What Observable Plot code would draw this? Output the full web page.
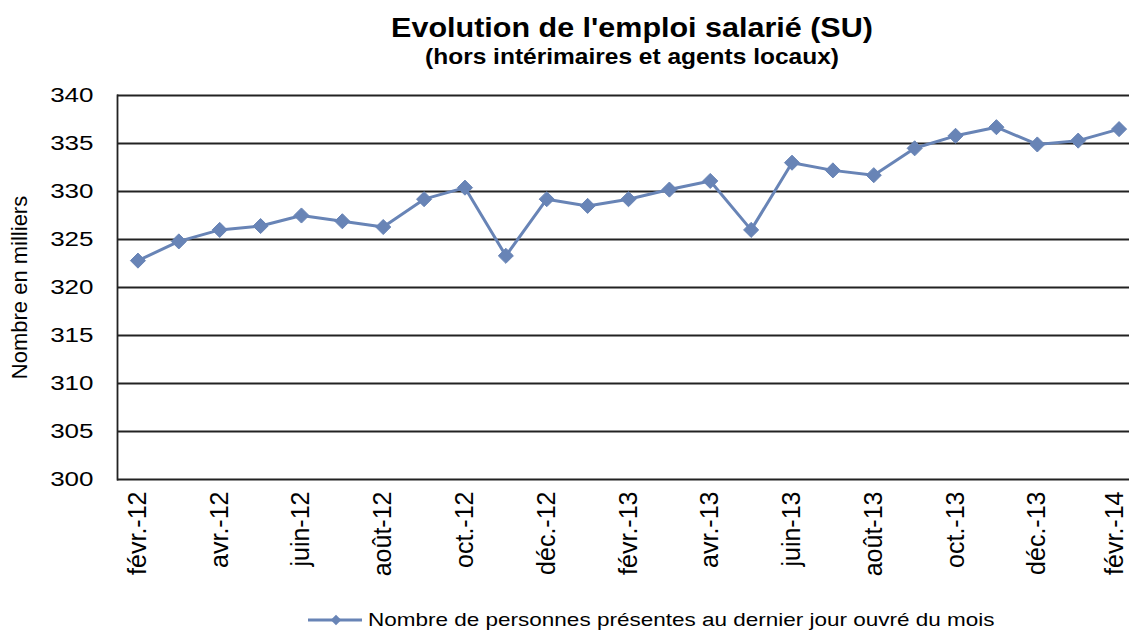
<!DOCTYPE html>
<html><head><meta charset="utf-8">
<script src="https://cdn.jsdelivr.net/npm/d3@7"></script>
<script src="https://cdn.jsdelivr.net/npm/@observablehq/plot@0.6"></script>
<style>
body{margin:0;background:#fff;font-family:"Liberation Sans",Arial,sans-serif;width:1129px;height:632px;overflow:hidden;position:relative;color:#000}
.t{position:absolute;left:132px;width:1000px;text-align:center;font-weight:bold;white-space:nowrap}
.t span{display:inline-block}
#chart{position:absolute;left:0;top:80px}
#legend{position:absolute;left:306px;top:606px;height:28px;display:flex;align-items:center;white-space:nowrap}
#legend span{display:inline-block;font-size:22.5px;transform:scaleY(0.85);margin-left:4px}
</style></head><body>
<div class="t" style="top:9px;line-height:36px;font-size:30.5px"><span style="transform:scaleY(0.9)">Evolution de l'emploi salarié (SU)</span></div>
<div class="t" style="top:42px;line-height:30px;font-size:24.5px"><span style="transform:scaleY(0.88)">(hors intérimaires et agents locaux)</span></div>
<div id="chart"></div>
<div id="legend"></div>
<script>
const months = ["févr.-12","mars-12","avr.-12","mai-12","juin-12","juil.-12","août-12","sept.-12","oct.-12","nov.-12","déc.-12","janv.-13","févr.-13","mars-13","avr.-13","mai-13","juin-13","juil.-13","août-13","sept.-13","oct.-13","nov.-13","déc.-13","janv.-14","févr.-14"];
const values = [322.8,324.8,326.0,326.4,327.5,326.9,326.3,329.2,330.4,323.3,329.2,328.5,329.2,330.2,331.1,326.0,333.0,332.2,331.7,334.5,335.8,336.7,334.9,335.3,336.5];
const xTickLabels = ["févr.-12","avr.-12","juin-12","août-12","oct.-12","déc.-12","févr.-13","avr.-13","juin-13","août-13","oct.-13","déc.-13","févr.-14"];
const yTicks = [300,305,310,315,320,325,330,335,340];
const seriesName = "Nombre de personnes présentes au dernier jour ouvré du mois";
const yTitle = "Nombre en milliers";
const color = "#6884b6";

const data = months.map((m,i)=>({month:m, value:values[i]}));

const plot = Plot.plot({
  width:1129, height:524,
  marginTop:15, marginBottom:125, marginLeft:117, marginRight:0,
  style:{fontFamily:"'Liberation Sans', Arial, sans-serif", color:"#000", overflow:"hidden", background:"#fff"},
  x:{type:"point", domain:months, range:[117,1139], padding:0.5, round:false},
  y:{domain:[300,340]},
  marks:[
    Plot.ruleY(yTicks, {stroke:"#222", strokeWidth:1.8}),
    Plot.frame({anchor:"left", stroke:"#222", strokeWidth:1.8}),
    Plot.axisY({ticks:yTicks, tickSize:0, tickPadding:24, fontSize:26, label:yTitle, labelAnchor:"center", labelArrow:"none", labelOffset:106}),
    Plot.axisX({ticks:xTickLabels, tickSize:0, tickRotate:-90, tickPadding:12, fontSize:25, label:null}),
    Plot.line(data, {x:"month", y:"value", stroke:color, strokeWidth:3}),
    Plot.dot(data, {x:"month", y:"value", symbol:"diamond2", fill:color, stroke:color, strokeWidth:1, r:6.8})
  ]
});
document.getElementById("chart").appendChild(plot);

function squash(svg, label, s){
  svg.querySelectorAll(`g[aria-label="${label}"] text`).forEach(t=>{
    const tr = t.getAttribute("transform") || "";
    const xa = parseFloat(t.getAttribute("x")), ya = parseFloat(t.getAttribute("y"));
    const x = (t.getAttribute("x")||"").endsWith("em") || isNaN(xa) ? 0 : xa;
    const y = (t.getAttribute("y")||"").endsWith("em") || isNaN(ya) ? 0 : ya;
    t.removeAttribute("x"); t.removeAttribute("y");
    t.setAttribute("dy","0.33em");
    t.setAttribute("transform", `${tr} translate(${x},${y}) scale(1,${s})`);
  });
}
squash(plot, "y-axis tick label", 0.75);
plot.querySelectorAll('g[aria-label="y-axis label"] text').forEach(t=>t.setAttribute("font-size","22"));
// keep the last (edge) x label fully inside the picture
const xl = plot.querySelectorAll('g[aria-label="x-axis tick label"] text');
if (xl.length) { const last = xl[xl.length-1]; last.setAttribute("transform", "translate(-4,0) " + (last.getAttribute("transform")||"")); }

// legend
const lg = document.getElementById("legend");
const sw = d3.create("svg").attr("width",58).attr("height",20);
sw.append("line").attr("x1",2).attr("x2",56).attr("y1",10).attr("y2",10).attr("stroke",color).attr("stroke-width",3);
sw.append("path").attr("d",d3.symbol(d3.symbolDiamond2, 70)()).attr("transform","translate(30,10)").attr("fill",color);
lg.appendChild(sw.node());
const sp = document.createElement("span"); sp.textContent = seriesName; lg.appendChild(sp);
</script>
</body></html>
